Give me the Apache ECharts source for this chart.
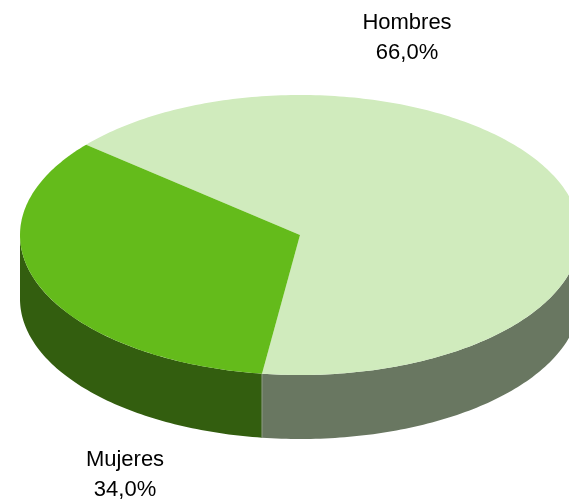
<!DOCTYPE html>
<html><head><meta charset="utf-8">
<script src="https://cdn.jsdelivr.net/npm/echarts@6/dist/echarts.min.js"></script>
<style>html,body{margin:0;padding:0;background:#fff}#c{width:569px;height:500px}</style>
</head><body><div id="c"></div>
<script>
const categories = ['Hombres', 'Mujeres'];
const values = [66.0, 34.0];
const topColors = ['#d0ebbd', '#64bb1b'];
const sideColors = ['#697761', '#335e0f'];
const labelPos = [[407, 38], [125, 475]];

const CX = 300, CY = 235, RX = 280, RY = 140, DEPTH = 64, START = 139.8;
const total = values.reduce((a, b) => a + b, 0);
const slices = [];
let acc = START;
values.forEach(v => { const sw = v / total * 360; slices.push({a0: acc, a1: acc - sw}); acc -= sw; });

function pt(deg, dy) {
  const r = deg * Math.PI / 180;
  return [CX + RX * Math.cos(r), CY - RY * Math.sin(r) + (dy || 0)];
}
function arc(from, to, dy) {
  const pts = []; const n = Math.max(2, Math.ceil(Math.abs(to - from) / 1));
  for (let k = 0; k <= n; k++) pts.push(pt(from + (to - from) * k / n, dy));
  return pts;
}

function renderItem(params, api) {
  const i = params.dataIndex;
  const s = slices[i];
  const children = [];
  for (let k = -2; k <= 1; k++) {
    const lo = Math.max(s.a1, -180 + 360 * k), hi = Math.min(s.a0, 0 + 360 * k);
    if (hi > lo) {
      const top = arc(hi, lo, 0), bot = arc(lo, hi, DEPTH);
      children.push({type: 'polygon', shape: {points: top.concat(bot)}, style: {fill: sideColors[i]}, z2: 1});
    }
  }
  const pts = [[CX, CY]].concat(arc(s.a0, s.a1, 0));
  children.push({type: 'polygon', shape: {points: pts}, style: {fill: topColors[i]}, z2: 10});
  const a = ((s.a0 % 360) + 360) % 360;
  if (a > 180 && i > 0) {
    const p = pt(s.a0, 0);
    children.push({type: 'line', shape: {x1: p[0], y1: p[1], x2: p[0], y2: p[1] + DEPTH}, style: {stroke: '#8f9c85', lineWidth: 1}, z2: 5});
  }
  children.push({
    type: 'text', z2: 20,
    style: {
      text: categories[i] + '\n' + api.value(0).toFixed(1).replace('.', ',') + '%',
      x: labelPos[i][0], y: labelPos[i][1], fill: '#000',
      font: '22px "Liberation Sans", Arial, sans-serif',
      align: 'center', verticalAlign: 'middle', lineHeight: 30
    }
  });
  return {type: 'group', children};
}

const chart = echarts.init(document.getElementById('c'));
chart.setOption({
  animation: false,
  series: [{
    type: 'custom',
    coordinateSystem: 'none',
    renderItem,
    data: values.map((v, i) => ({value: [v, i], name: categories[i]}))
  }]
});
</script></body></html>
